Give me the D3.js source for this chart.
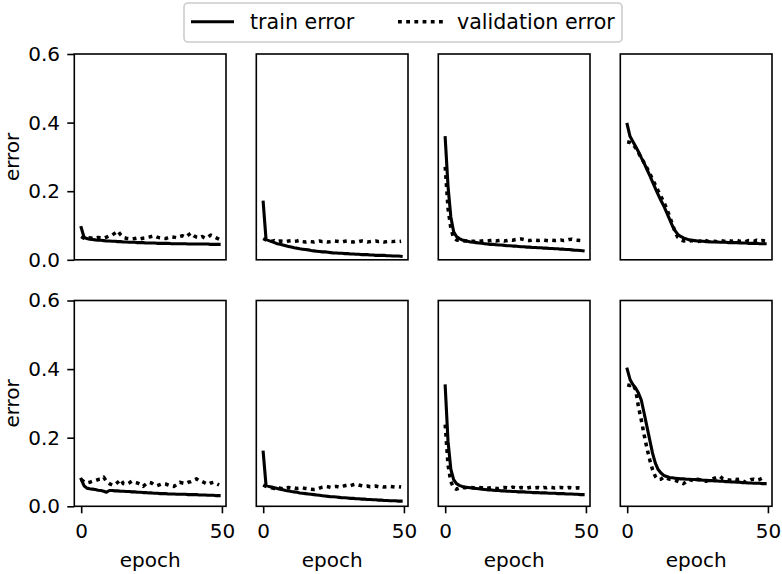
<!DOCTYPE html>
<html>
<head>
<meta charset="utf-8">
<script src="https://cdn.jsdelivr.net/npm/d3@7"></script>
<style>
  body { margin: 0; background: #fff; }
  svg { display: block; }
  text { font-family: "DejaVu Sans", sans-serif; }
</style>
</head>
<body>
<div id="chart"></div>
<script>
const width = 782;
const height = 574;

// epochs 0..49
const epochs = d3.range(50);
const yTicks = [0.0, 0.2, 0.4, 0.6];
const xTicks = [0, 50];
const legendLabels = ["train error", "validation error"];

// row 1
const train_1_1 = [0.094, 0.066, 0.062, 0.060, 0.059, 0.058, 0.057, 0.057, 0.056, 0.055, 0.055, 0.054, 0.054, 0.053, 0.053, 0.052, 0.052, 0.051, 0.051, 0.051, 0.050, 0.050, 0.050, 0.049, 0.049, 0.049, 0.049, 0.048, 0.048, 0.048, 0.048, 0.048, 0.047, 0.047, 0.047, 0.047, 0.047, 0.047, 0.046, 0.046, 0.046, 0.046, 0.046, 0.046, 0.046, 0.046, 0.045, 0.045, 0.045, 0.045];
const valid_1_1 = [0.068, 0.063, 0.062, 0.064, 0.063, 0.062, 0.065, 0.064, 0.063, 0.066, 0.070, 0.072, 0.078, 0.084, 0.073, 0.065, 0.063, 0.062, 0.061, 0.062, 0.064, 0.061, 0.063, 0.064, 0.066, 0.068, 0.070, 0.066, 0.064, 0.063, 0.062, 0.065, 0.067, 0.066, 0.064, 0.068, 0.070, 0.066, 0.072, 0.078, 0.070, 0.066, 0.064, 0.068, 0.063, 0.066, 0.072, 0.068, 0.064, 0.060];

const train_1_2 = [0.168, 0.060, 0.056, 0.053, 0.050, 0.047, 0.045, 0.043, 0.041, 0.039, 0.037, 0.035, 0.034, 0.032, 0.031, 0.030, 0.029, 0.027, 0.026, 0.025, 0.024, 0.023, 0.023, 0.022, 0.021, 0.020, 0.020, 0.019, 0.019, 0.018, 0.018, 0.017, 0.017, 0.016, 0.016, 0.015, 0.015, 0.015, 0.014, 0.014, 0.013, 0.013, 0.013, 0.013, 0.012, 0.012, 0.011, 0.011, 0.011, 0.010];
const valid_1_2 = [0.062, 0.058, 0.055, 0.054, 0.056, 0.053, 0.055, 0.054, 0.053, 0.055, 0.056, 0.054, 0.055, 0.057, 0.053, 0.052, 0.054, 0.053, 0.052, 0.054, 0.055, 0.053, 0.054, 0.052, 0.053, 0.055, 0.054, 0.053, 0.052, 0.054, 0.055, 0.053, 0.052, 0.054, 0.053, 0.055, 0.054, 0.052, 0.053, 0.054, 0.055, 0.053, 0.054, 0.052, 0.053, 0.054, 0.053, 0.054, 0.053, 0.054];

const train_1_3 = [0.356, 0.215, 0.125, 0.082, 0.068, 0.062, 0.058, 0.056, 0.054, 0.052, 0.051, 0.050, 0.049, 0.048, 0.047, 0.046, 0.045, 0.045, 0.044, 0.043, 0.043, 0.042, 0.041, 0.041, 0.040, 0.040, 0.039, 0.038, 0.038, 0.037, 0.037, 0.036, 0.036, 0.035, 0.035, 0.034, 0.034, 0.033, 0.033, 0.032, 0.032, 0.031, 0.031, 0.030, 0.030, 0.029, 0.028, 0.028, 0.027, 0.026];
const valid_1_3 = [0.271, 0.150, 0.092, 0.064, 0.058, 0.057, 0.056, 0.055, 0.055, 0.054, 0.054, 0.053, 0.054, 0.055, 0.056, 0.055, 0.056, 0.057, 0.055, 0.056, 0.057, 0.055, 0.056, 0.058, 0.057, 0.059, 0.060, 0.061, 0.059, 0.057, 0.056, 0.058, 0.057, 0.056, 0.057, 0.058, 0.056, 0.055, 0.057, 0.056, 0.057, 0.058, 0.056, 0.057, 0.059, 0.060, 0.058, 0.057, 0.056, 0.057];

const train_1_4 = [0.395, 0.360, 0.345, 0.330, 0.315, 0.298, 0.282, 0.264, 0.246, 0.227, 0.208, 0.190, 0.173, 0.157, 0.138, 0.119, 0.100, 0.085, 0.074, 0.068, 0.064, 0.061, 0.058, 0.057, 0.056, 0.055, 0.054, 0.054, 0.053, 0.053, 0.052, 0.052, 0.052, 0.051, 0.051, 0.051, 0.050, 0.050, 0.050, 0.050, 0.049, 0.049, 0.049, 0.048, 0.048, 0.048, 0.048, 0.047, 0.047, 0.047];
const valid_1_4 = [0.344, 0.342, 0.337, 0.326, 0.312, 0.297, 0.283, 0.268, 0.252, 0.235, 0.218, 0.201, 0.185, 0.168, 0.150, 0.128, 0.105, 0.082, 0.065, 0.058, 0.055, 0.056, 0.054, 0.056, 0.055, 0.053, 0.055, 0.054, 0.056, 0.053, 0.055, 0.054, 0.053, 0.056, 0.055, 0.053, 0.056, 0.054, 0.055, 0.057, 0.054, 0.055, 0.053, 0.056, 0.055, 0.054, 0.057, 0.055, 0.056, 0.055];

// row 2
const train_2_1 = [0.079, 0.060, 0.053, 0.051, 0.050, 0.049, 0.047, 0.046, 0.044, 0.041, 0.046, 0.046, 0.045, 0.045, 0.044, 0.044, 0.043, 0.043, 0.042, 0.042, 0.041, 0.041, 0.040, 0.040, 0.039, 0.039, 0.038, 0.038, 0.037, 0.037, 0.037, 0.036, 0.036, 0.036, 0.035, 0.035, 0.035, 0.035, 0.034, 0.034, 0.034, 0.034, 0.033, 0.033, 0.033, 0.032, 0.032, 0.032, 0.031, 0.031];
const valid_2_1 = [0.078, 0.072, 0.068, 0.070, 0.073, 0.075, 0.078, 0.079, 0.085, 0.072, 0.066, 0.062, 0.063, 0.070, 0.078, 0.066, 0.064, 0.068, 0.073, 0.070, 0.068, 0.064, 0.058, 0.065, 0.070, 0.068, 0.062, 0.060, 0.063, 0.066, 0.065, 0.062, 0.059, 0.058, 0.064, 0.070, 0.068, 0.066, 0.070, 0.072, 0.076, 0.080, 0.074, 0.072, 0.068, 0.064, 0.068, 0.070, 0.066, 0.062];

const train_2_2 = [0.158, 0.062, 0.058, 0.056, 0.054, 0.052, 0.050, 0.048, 0.046, 0.045, 0.043, 0.042, 0.041, 0.039, 0.038, 0.037, 0.036, 0.035, 0.034, 0.033, 0.032, 0.031, 0.030, 0.029, 0.028, 0.028, 0.027, 0.026, 0.025, 0.025, 0.024, 0.023, 0.023, 0.022, 0.022, 0.021, 0.021, 0.020, 0.020, 0.019, 0.019, 0.018, 0.018, 0.017, 0.017, 0.016, 0.016, 0.016, 0.015, 0.015];
const valid_2_2 = [0.062, 0.058, 0.056, 0.054, 0.052, 0.055, 0.053, 0.051, 0.054, 0.055, 0.053, 0.054, 0.052, 0.053, 0.054, 0.052, 0.051, 0.050, 0.049, 0.050, 0.053, 0.056, 0.058, 0.057, 0.055, 0.057, 0.058, 0.056, 0.057, 0.060, 0.062, 0.060, 0.063, 0.065, 0.062, 0.060, 0.058, 0.059, 0.057, 0.058, 0.059, 0.057, 0.058, 0.056, 0.057, 0.058, 0.057, 0.056, 0.057, 0.056];

const train_2_3 = [0.351, 0.190, 0.108, 0.078, 0.066, 0.061, 0.058, 0.056, 0.055, 0.054, 0.053, 0.052, 0.051, 0.050, 0.049, 0.048, 0.048, 0.047, 0.046, 0.046, 0.045, 0.045, 0.044, 0.044, 0.043, 0.043, 0.042, 0.042, 0.042, 0.041, 0.041, 0.040, 0.040, 0.040, 0.039, 0.039, 0.039, 0.038, 0.038, 0.038, 0.037, 0.037, 0.037, 0.036, 0.036, 0.036, 0.035, 0.035, 0.034, 0.034];
const valid_2_3 = [0.238, 0.120, 0.072, 0.055, 0.050, 0.053, 0.055, 0.054, 0.056, 0.055, 0.054, 0.053, 0.055, 0.054, 0.052, 0.053, 0.054, 0.055, 0.053, 0.052, 0.054, 0.055, 0.054, 0.053, 0.056, 0.054, 0.052, 0.055, 0.054, 0.053, 0.055, 0.056, 0.054, 0.055, 0.053, 0.055, 0.054, 0.056, 0.055, 0.053, 0.054, 0.055, 0.054, 0.053, 0.055, 0.054, 0.053, 0.054, 0.053, 0.052];

const train_2_4 = [0.400, 0.370, 0.355, 0.345, 0.330, 0.310, 0.272, 0.233, 0.194, 0.155, 0.126, 0.107, 0.097, 0.090, 0.087, 0.084, 0.083, 0.082, 0.081, 0.080, 0.080, 0.079, 0.079, 0.078, 0.078, 0.077, 0.077, 0.076, 0.076, 0.075, 0.075, 0.074, 0.074, 0.073, 0.073, 0.072, 0.072, 0.071, 0.071, 0.070, 0.070, 0.069, 0.069, 0.068, 0.068, 0.067, 0.067, 0.067, 0.066, 0.066];
const valid_2_4 = [0.354, 0.352, 0.355, 0.340, 0.290, 0.252, 0.209, 0.170, 0.136, 0.107, 0.087, 0.078, 0.079, 0.085, 0.082, 0.079, 0.078, 0.076, 0.073, 0.070, 0.066, 0.072, 0.078, 0.076, 0.074, 0.079, 0.077, 0.075, 0.073, 0.076, 0.079, 0.082, 0.085, 0.087, 0.080, 0.078, 0.077, 0.076, 0.080, 0.078, 0.079, 0.075, 0.070, 0.074, 0.078, 0.079, 0.076, 0.078, 0.082, 0.085];

const panels = [
  [train_1_1, valid_1_1], [train_1_2, valid_1_2], [train_1_3, valid_1_3], [train_1_4, valid_1_4],
  [train_2_1, valid_2_1], [train_2_2, valid_2_2], [train_2_3, valid_2_3], [train_2_4, valid_2_4]
];

// layout of the grid
const colLeft = [74.3, 256.3, 438.3, 620.3];
const panelW = 151.7;
const rowTop = [54, 300.5];
const panelH = 205.8;
const dotted = "3.8,4.4";

const svg = d3.select("#chart").append("svg")
  .attr("width", width)
  .attr("height", height);

const x = d3.scaleLinear().domain([-2.45, 51.45]).range([0, panelW]);
const y = d3.scaleLinear().domain([0, 0.6]).range([panelH, 0]);

const line = d3.line()
  .x((d, i) => x(epochs[i]))
  .y(d => y(d));

panels.forEach(function(p, k) {
  const row = Math.floor(k / 4);
  const col = k % 4;
  const g = svg.append("g")
    .attr("transform", `translate(${colLeft[col]},${rowTop[row]})`);

  g.append("path")
    .datum(p[0])
    .attr("d", line)
    .attr("fill", "none")
    .attr("stroke", "#000")
    .attr("stroke-width", 3.1)
    .attr("stroke-linejoin", "round")
    .attr("stroke-linecap", "square");

  g.append("path")
    .datum(p[1])
    .attr("d", line)
    .attr("fill", "none")
    .attr("stroke", "#000")
    .attr("stroke-width", 3.5)
    .attr("stroke-dasharray", dotted)
    .attr("stroke-linejoin", "round");

  g.append("rect")
    .attr("width", panelW)
    .attr("height", panelH)
    .attr("fill", "none")
    .attr("stroke", "#000")
    .attr("stroke-width", 1.6);

  if (col === 0) {
    const ya = g.append("g")
      .call(d3.axisLeft(y).tickValues(yTicks).tickFormat(d3.format(".1f")).tickSize(7).tickPadding(7.3));
    ya.select(".domain").remove();
    ya.selectAll("line").attr("stroke-width", 1.6);
    ya.selectAll("text").attr("font-size", 20).attr("font-family", "DejaVu Sans").attr("fill", "#000");

    svg.append("text")
      .attr("transform", `translate(18.6,${rowTop[row] + panelH / 2}) rotate(-90)`)
      .attr("text-anchor", "middle")
      .attr("font-size", 20)
      .text("error");
  }

  if (row === 1) {
    const xa = g.append("g")
      .attr("transform", `translate(0,${panelH})`)
      .call(d3.axisBottom(x).tickValues(xTicks).tickFormat(d3.format("d")).tickSize(7).tickPadding(10.5));
    xa.select(".domain").remove();
    xa.selectAll("line").attr("stroke-width", 1.6);
    xa.selectAll("text").attr("font-size", 20).attr("font-family", "DejaVu Sans").attr("fill", "#000");

    g.append("text")
      .attr("x", panelW / 2)
      .attr("y", panelH + 60.3)
      .attr("text-anchor", "middle")
      .attr("font-size", 20)
      .text("epoch");
  }
});

// legend
const legend = svg.append("g");
legend.append("rect")
  .attr("x", 184).attr("y", 3)
  .attr("width", 438).attr("height", 39)
  .attr("rx", 4)
  .attr("fill", "#fff").attr("fill-opacity", 0.8)
  .attr("stroke", "#cccccc").attr("stroke-width", 1.6);

legend.append("line")
  .attr("x1", 191).attr("x2", 234)
  .attr("y1", 21.7).attr("y2", 21.7)
  .attr("stroke", "#000").attr("stroke-width", 3.1);
legend.append("text")
  .attr("x", 250).attr("y", 29.3)
  .attr("font-size", 20.6)
  .text(legendLabels[0]);

legend.append("line")
  .attr("x1", 398).attr("x2", 443)
  .attr("y1", 21.7).attr("y2", 21.7)
  .attr("stroke", "#000").attr("stroke-width", 3.5)
  .attr("stroke-dasharray", dotted);
legend.append("text")
  .attr("x", 457).attr("y", 29.3)
  .attr("font-size", 20.6)
  .text(legendLabels[1]);
</script>
</body>
</html>
